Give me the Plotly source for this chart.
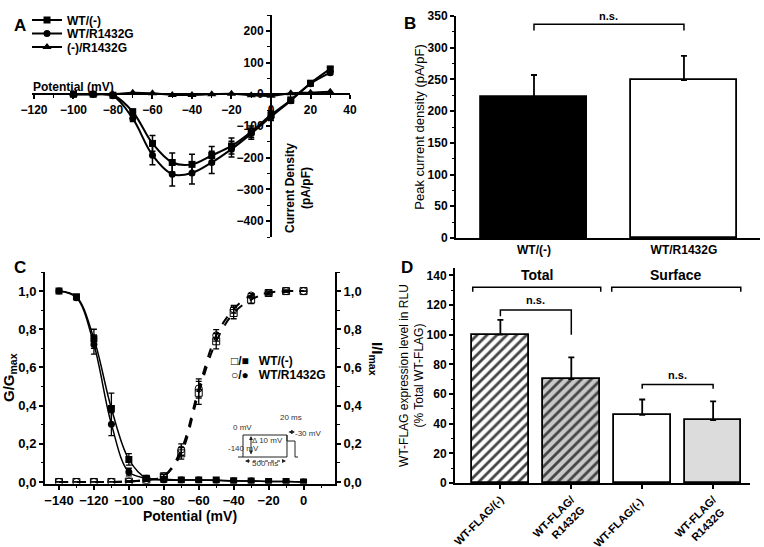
import plotly.graph_objects as go

# %% data
# A: I-V curves
v_iv = [-100, -90, -80, -70, -60, -50, -40, -30, -20, -10, 0, 10, 20, 30]
iv_wt = [0, 0, -3, -55, -155, -215, -221, -193, -163, -118, -65, -18, 35, 80]
iv_wt_err = [3, 3, 4, 8, 25, 30, 32, 28, 25, 18, 12, 8, 6, 6]
iv_wtr = [0, 0, -5, -76, -192, -252, -248, -215, -173, -124, -71, -20, 33, 68]
iv_wtr_err = [3, 3, 4, 10, 30, 37, 35, 35, 25, 18, 12, 8, 6, 6]
iv_mut = [0, 0, 0, 5, 3, -2, -2, 0, 2, -3, -5, 3, 5, 8]

# B: peak current density
b_groups = ["WT/(-)", "WT/R1432G"]
b_vals = [222, 249]
b_err = [35, 38]

# C: activation / inactivation
v_gv = [-140, -130, -120, -110, -100, -90, -80, -70, -60, -50, -40, -30, -20, -10, 0]
act_wt = [1.0, 0.97, 0.75, 0.385, 0.118, 0.02, 0.014, 0.01, 0.01, 0.01, 0.006, 0.005, 0.003, 0.002, 0.0]
act_wt_err = [0.005, 0.01, 0.05, 0.08, 0.03, 0.01, 0.005, 0.004, 0.004, 0.004, 0.003, 0.003, 0.002, 0.002, 0.0]
act_wtr = [1.0, 0.965, 0.72, 0.303, 0.052, 0.02, 0.01, 0.01, 0.01, 0.008, 0.005, 0.005, 0.003, 0.002, 0.0]
act_wtr_err = [0.005, 0.01, 0.05, 0.06, 0.02, 0.01, 0.005, 0.004, 0.004, 0.004, 0.003, 0.003, 0.002, 0.002, 0.0]
inact_wt = [0, 0, 0, 0, 0.002, 0.01, 0.03, 0.15, 0.467, 0.737, 0.885, 0.955, 0.99, 1.0, 1.0]
inact_wt_err = [0, 0, 0, 0, 0.003, 0.005, 0.01, 0.03, 0.06, 0.04, 0.03, 0.02, 0.01, 0.005, 0.0]
inact_wtr = [0, 0, 0, 0, 0.002, 0.01, 0.03, 0.17, 0.49, 0.768, 0.905, 0.977, 0.99, 1.0, 1.0]
inact_wtr_err = [0, 0, 0, 0, 0.003, 0.005, 0.01, 0.03, 0.05, 0.03, 0.02, 0.01, 0.01, 0.005, 0.0]
c_ticks = [0.0, 0.2, 0.4, 0.6, 0.8, 1.0]

# D: expression levels
d_groups = ["WT-FLAG/(-)", "WT-FLAG/<br>R1432G", "WT-FLAG/(-) ", "WT-FLAG/<br>R1432G "]
d_vals = [100, 70, 46, 42.5]
d_err = [10, 14.7, 10.3, 12.5]
# brackets: x0, x1, top, left leg end, right leg end, label
d_brackets = [(-0.39, 1.415, 132, 129, 129, "Total"),
              (1.57, 3.39, 132, 129, 129, "Surface"),
              (0, 1, 116.7, 112.5, 100, "n.s."),
              (2, 3, 66.5, 63.5, 63.5, "n.s.")]

W, H = 764, 547
FONT = "Liberation Sans, Arial, sans-serif"


def px(x):
    return x / W


def py(y):
    return 1 - y / H


fig = go.Figure()

# %% panel A
errA = dict(type='data', color='black', thickness=1.5, width=3)
fig.add_trace(go.Scatter(x=v_iv, y=iv_wt, name='WT/(-)', mode='lines+markers', legend='legend',
                         line=dict(color='black', width=2, shape='spline'),
                         marker=dict(symbol='square', size=7, color='black'),
                         error_y=dict(errA, array=iv_wt_err), xaxis='x', yaxis='y'))
fig.add_trace(go.Scatter(x=v_iv, y=iv_wtr, name='WT/R1432G', mode='lines+markers', legend='legend2',
                         line=dict(color='black', width=2, shape='spline'),
                         marker=dict(symbol='circle', size=7, color='black'),
                         error_y=dict(errA, array=iv_wtr_err), xaxis='x', yaxis='y'))
fig.add_trace(go.Scatter(x=v_iv, y=iv_mut, name='(-)/R1432G', mode='lines+markers', legend='legend3',
                         line=dict(color='black', width=2, shape='spline'),
                         marker=dict(symbol='triangle-up', size=8, color='black'),
                         xaxis='x', yaxis='y'))

# %% panel B
fig.add_trace(go.Bar(x=b_groups, y=b_vals, width=0.707,
                     marker=dict(color=['black', 'white'], line=dict(color='black', width=1.8)),
                     error_y=dict(type='data', symmetric=False, array=b_err, arrayminus=[0, 0],
                                  color='black', thickness=1.8, width=3),
                     showlegend=False, xaxis='x2', yaxis='y2'))

# %% panel C
errC = dict(type='data', color='black', thickness=1.3, width=3)
fig.add_trace(go.Scatter(x=v_gv, y=inact_wt, mode='lines+markers', showlegend=False,
                         line=dict(color='black', width=2, dash='dash', shape='spline'),
                         marker=dict(symbol='square-open', size=7, color='black'),
                         error_y=dict(errC, array=inact_wt_err), xaxis='x3', yaxis='y4'))
fig.add_trace(go.Scatter(x=v_gv, y=inact_wtr, mode='lines+markers', showlegend=False,
                         line=dict(color='black', width=2, dash='dash', shape='spline'),
                         marker=dict(symbol='circle-open', size=7, color='black'),
                         error_y=dict(errC, array=inact_wtr_err), xaxis='x3', yaxis='y4'))
fig.add_trace(go.Scatter(x=v_gv, y=act_wt, mode='lines+markers', showlegend=False,
                         line=dict(color='black', width=1.5, shape='spline'),
                         marker=dict(symbol='square', size=7, color='black'),
                         error_y=dict(errC, array=act_wt_err), xaxis='x3', yaxis='y3'))
fig.add_trace(go.Scatter(x=v_gv, y=act_wtr, mode='lines+markers', showlegend=False,
                         line=dict(color='black', width=1.5, shape='spline'),
                         marker=dict(symbol='circle', size=7, color='black'),
                         error_y=dict(errC, array=act_wtr_err), xaxis='x3', yaxis='y3'))

# %% panel D
fills = ['white', '#c8c8c8', 'white', '#dcdcdc']
fig.add_trace(go.Bar(x=d_groups, y=d_vals, width=0.8,
                     marker=dict(color=fills, line=dict(color='black', width=1.8),
                                 pattern=dict(shape=['/', '/', '', ''], fgcolor='black',
                                              bgcolor=fills, fgopacity=1,
                                              size=7, solidity=0.4, fillmode='overlay')),
                     error_y=dict(type='data', symmetric=False, array=d_err,
                                  arrayminus=[0, 0, 0, 0], color='black', thickness=1.8, width=3),
                     showlegend=False, xaxis='x5', yaxis='y5'))

# axis geometry
a_xr, a_yr = [-121, 40], [-450, 250]
a_xd, a_yd = [px(32), px(350)], [py(237), py(15)]
a_xpos = a_yd[0] + (0 - a_yr[0]) / (a_yr[1] - a_yr[0]) * (a_yd[1] - a_yd[0])
a_ypos = a_xd[0] + (0 - a_xr[0]) / (a_xr[1] - a_xr[0]) * (a_xd[1] - a_xd[0])

tickf = dict(family=FONT, size=12, color='black', weight='bold')
base = dict(showgrid=False, zeroline=False, showline=True, linecolor='black', linewidth=2,
            ticks='outside', tickcolor='black', tickwidth=1.5, ticklen=4, tickfont=tickf,
            automargin=False)
minor = dict(ticks='outside', ticklen=2.5, tickcolor='black', tickwidth=1.2)
leg = dict(xanchor='left', yanchor='middle', font=dict(size=12, weight='bold', family=FONT),
           bgcolor='rgba(0,0,0,0)', itemwidth=30, x=px(27))

fig.update_layout(
    template='none',
    width=W, height=H, margin=dict(l=0, r=0, t=0, b=0, pad=0),
    paper_bgcolor='white', plot_bgcolor='white',
    font=dict(family=FONT, color='black'),
    separators=',.',
    showlegend=True,
    legend=dict(leg, y=py(20)),
    legend2=dict(leg, y=py(33.5)),
    legend3=dict(leg, y=py(47)),
    xaxis=dict(base, range=a_xr, domain=a_xd, anchor='free', position=a_xpos,
               dtick=20, tick0=0, minor=dict(minor, dtick=10)),
    yaxis=dict(base, range=a_yr, domain=a_yd, anchor='free', position=a_ypos,
               dtick=100, tick0=0, minor=dict(minor, dtick=50)),
    xaxis2=dict(base, range=[-0.52, 1.507], domain=[px(456), px(760)], anchor='y2',
                ticks='', tickfont=dict(tickf, size=12)),
    yaxis2=dict(base, range=[0, 350], domain=[py(238), py(16)], anchor='x2',
                dtick=50, minor=dict(minor, dtick=25),
                title=dict(text='Peak current density (pA/pF)', font=dict(size=13), standoff=0)),
    xaxis3=dict(base, range=[-148, 18], domain=[px(45), px(335)], anchor='y3',
                dtick=20, tick0=0, minor=dict(minor, dtick=10), tickfont=dict(tickf, size=13),
                title=dict(text='Potential (mV)', font=dict(size=14, weight='bold'), standoff=2)),
    yaxis3=dict(base, range=[-0.008, 1.1], domain=[py(483.5), py(272)], anchor='x3',
                tickvals=c_ticks, tickformat='.1f', minor=dict(minor, dtick=0.1),
                tickfont=dict(tickf, size=13),
                title=dict(text='G/G<sub>max</sub>', font=dict(size=15, weight='bold'), standoff=0)),
    yaxis4=dict(base, range=[-0.008, 1.1], overlaying='y3', side='right', anchor='x3',
                tickvals=c_ticks, tickformat='.1f', minor=dict(minor, dtick=0.1),
                tickfont=dict(tickf, size=13)),
    xaxis5=dict(base, range=[-0.64, 3.52], domain=[px(455), px(750)], anchor='y5',
                tickangle=-45, tickfont=dict(tickf, size=11)),
    yaxis5=dict(base, range=[0, 145], domain=[py(483), py(268)], anchor='x5',
                dtick=20, minor=dict(minor, dtick=10),
                title=dict(text='WT-FLAG expression level in RLU<br>(% Total WT-FLAG)',
                           font=dict(size=12), standoff=0)),
    bargap=0,
)

ann = []
shapes = []

# panel letters
for lbl, x, y in [('A', 12, 14), ('B', 410, 12), ('C', 12, 268), ('D', 407, 268)]:
    ann.append(dict(text=lbl, x=px(x), y=py(y), xref='paper', yref='paper', showarrow=False,
                    font=dict(size=17, weight='bold')))

# panel A labels
ann.append(dict(text='Potential (mV)', x=px(31), y=py(78), xref='paper', yref='paper',
                xanchor='left', showarrow=False, font=dict(size=12, weight='bold')))
ann.append(dict(text='Current Density<br>(pA/pF)', x=px(298), y=py(188), xref='paper',
                yref='paper', textangle=-90, showarrow=False, font=dict(size=12, weight='bold')))

# panel B bracket
shapes.append(dict(type='path', xref='x2', yref='y2',
                   path='M 0,327 L 0,337 L 1,337 L 1,327', line=dict(color='black', width=1.5)))
ann.append(dict(text='<b>n.s.</b>', x=0.5, y=337, xref='x2', yref='y2', yanchor='bottom',
                showarrow=False, font=dict(size=11)))

# panel C legend + right title
ann.append(dict(text='□/■   WT/(-)', x=px(229), y=py(370), xref='paper', yref='paper',
                xanchor='left', showarrow=False, font=dict(size=12, weight='bold')))
ann.append(dict(text='○/●   WT/R1432G', x=px(229), y=py(384), xref='paper', yref='paper',
                xanchor='left', showarrow=False, font=dict(size=12, weight='bold')))
ann.append(dict(text='I/I<sub>max</sub>', x=px(377), y=py(378), xref='paper', yref='paper',
                textangle=90, showarrow=False, font=dict(size=15, weight='bold')))

# panel C inset: voltage protocol
ins = dict(color='#222', width=1)
for path in ['M 238,457 L 243,457 L 243,435 L 287,435 L 287,441 L 295,441 L 295,457 L 298,457',
             'M 243,457 L 287,457 L 287,435']:
    pts = [p.split(',') for p in path.replace('M ', '').split(' L ')]
    d = 'M ' + ' L '.join(f'{px(float(a)):.5f},{py(float(b)):.5f}' for a, b in pts)
    shapes.append(dict(type='path', xref='paper', yref='paper', path=d, line=ins))
shapes.append(dict(type='line', xref='paper', yref='paper', x0=px(247), x1=px(284),
                   y0=py(461), y1=py(461), line=dict(color='#222', width=1, dash='dot')))
arr = dict(xref='paper', yref='paper', axref='pixel', ayref='pixel', text='', showarrow=True,
           arrowhead=2, arrowsize=0.8, arrowwidth=1, arrowcolor='#222', arrowside='end+start')
ann.append(dict(arr, x=px(251), y=py(436), ax=0, ay=20))
ann.append(dict(arr, x=px(295), y=py(432), ax=-8, ay=0))
ann.append(dict(arr, x=px(245), y=py(461), ax=4, ay=0, arrowside='end'))
ann.append(dict(arr, x=px(286), y=py(461), ax=-4, ay=0, arrowside='end'))
for t, x, y in [('0 mV', 231, 434), ('-140 mV', 226, 455), ('Δ 10 mV', 267, 447),
                ('20 ms', 291, 424), ('-30 mV', 308, 440), ('500 ms', 265, 470)]:
    ann.append(dict(text=t, x=px(x), y=py(y), xref='paper', yref='paper', showarrow=False,
                    font=dict(size=8, color='#333')))

# panel D brackets
for x0, x1, top, l_end, r_end, lbl in d_brackets:
    shapes.append(dict(type='path', xref='x5', yref='y5',
                       path=f'M {x0},{l_end} L {x0},{top} L {x1},{top} L {x1},{r_end}',
                       line=dict(color='black', width=1.5)))
    big = lbl != 'n.s.'
    ann.append(dict(text=f'<b>{lbl}</b>', x=(x0 + x1) / 2, y=top + (1.5 if big else 1),
                    xref='x5', yref='y5', yanchor='bottom', showarrow=False,
                    font=dict(size=14 if big else 11)))

fig.update_layout(annotations=ann, shapes=shapes)

# page body has a default 8px margin; remove it so the figure sits at the corner
fig.write_html("out.html", config={'displayModeBar': False},
               post_script="document.body.style.margin='0px';")
